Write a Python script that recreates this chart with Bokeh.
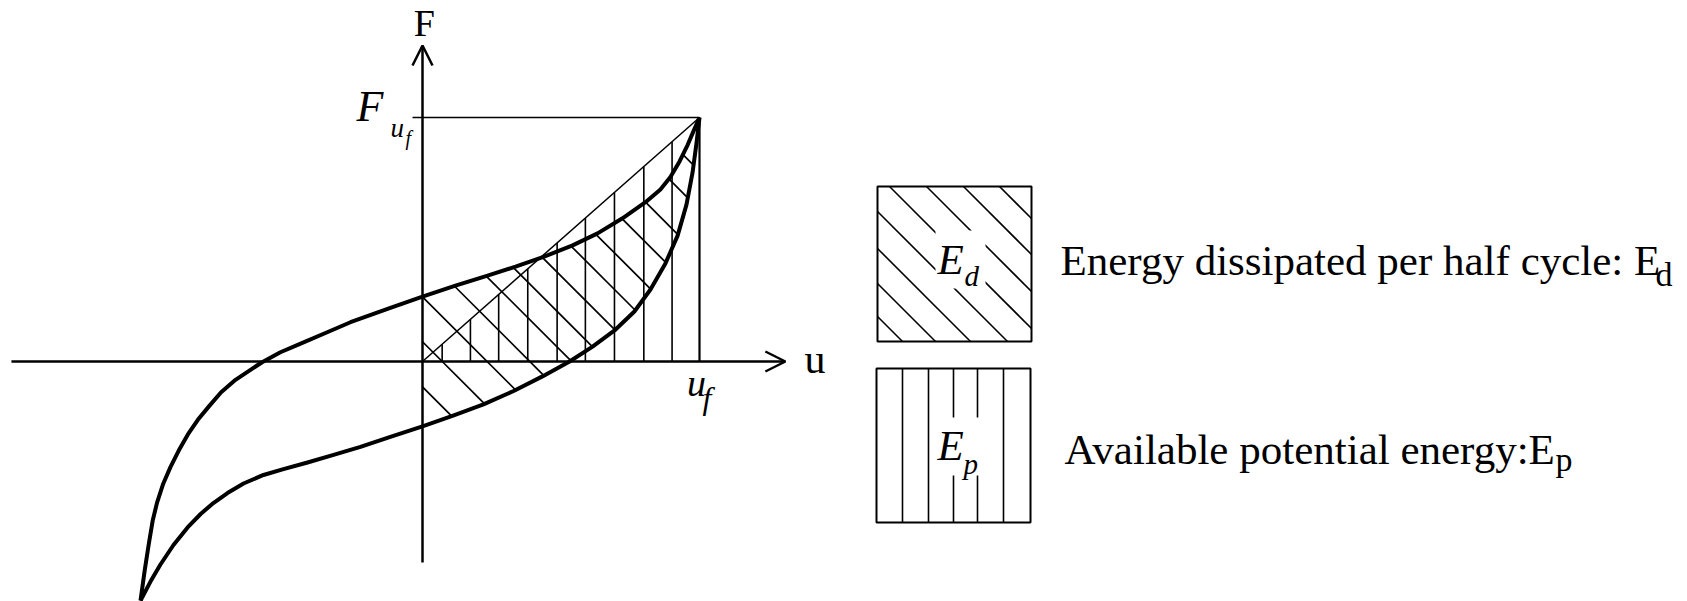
import numpy as np
from bokeh.plotting import figure
from bokeh.models import Range1d, Arrow, OpenHead, Label
from bokeh.layouts import row
from bokeh.embed import file_html
from bokeh.resources import INLINE

# ---------------------------------------------------------------------------
# Force-displacement loop, normalised so that the turning point is (u_f, F_uf)
# ---------------------------------------------------------------------------
U_F = 1.0     # displacement at the turning point
F_UF = 1.0    # force at the turning point

# upper branch, from the lower-left tip to the turning point
upper_u = [-1.018, -1.003, -0.988, -0.974, -0.958, -0.936, -0.910, -0.880, -0.847,
           -0.811, -0.771, -0.727, -0.675, -0.621, -0.579, -0.513, -0.440, -0.344,
           -0.260, -0.116, 0.000, 0.119, 0.235, 0.336, 0.437, 0.542, 0.632, 0.722,
           0.805, 0.859, 0.895, 0.928, 0.957, 0.978, 1.000]
upper_F = [-0.980, -0.857, -0.747, -0.652, -0.577, -0.501, -0.433, -0.365, -0.299,
           -0.239, -0.184, -0.126, -0.075, -0.034, -0.003, 0.038, 0.073, 0.120,
           0.161, 0.220, 0.266, 0.311, 0.352, 0.389, 0.429, 0.476, 0.525, 0.587,
           0.653, 0.705, 0.756, 0.820, 0.887, 0.943, 1.000]

# lower branch, same end points
lower_u = [-1.018, -0.982, -0.946, -0.899, -0.848, -0.801, -0.755, -0.704, -0.646,
           -0.574, -0.502, -0.415, -0.321, -0.224, -0.116, 0.000, 0.108, 0.220,
           0.329, 0.433, 0.531, 0.614, 0.697, 0.765, 0.823, 0.877, 0.921, 0.953,
           0.975, 0.989, 1.000]
lower_F = [-0.980, -0.902, -0.832, -0.752, -0.680, -0.625, -0.580, -0.539, -0.500,
           -0.465, -0.441, -0.414, -0.383, -0.350, -0.309, -0.266, -0.223, -0.176,
           -0.121, -0.061, 0.000, 0.061, 0.131, 0.205, 0.295, 0.402, 0.516, 0.643,
           0.775, 0.893, 1.000]

# hatching: vertical strokes of the E_p triangle and F-intercepts (at u = 0)
# of the oblique strokes of the E_d area
ep_hatch_u = [0.071, 0.173, 0.275, 0.380, 0.486, 0.588, 0.693, 0.799, 0.901]
ed_hatch_f0 = [-0.104, 0.081, 0.265, 0.440, 0.611, 0.757, 0.918, 1.082, 1.232,
               1.403, 1.567, 1.758, 1.915]

# ---------------------------------------------------------------------------
# Page geometry
# ---------------------------------------------------------------------------
H = 601
W_LEFT, W_RIGHT = 850, 837
ORIGIN_PX, ORIGIN_PY = 422, 361   # where u = 0, F = 0 sits on the canvas
PX_U, PX_F = 277.0, 244.0         # pixels per unit u and per unit F

x_rng = Range1d(-ORIGIN_PX / PX_U, (W_LEFT - ORIGIN_PX) / PX_U)
y_rng = Range1d((ORIGIN_PY - H) / PX_F, ORIGIN_PY / PX_F)

SERIF = "Liberation Serif"
INK = "black"
BASE_FIX = 0.38   # baseline correction of the text boxes, in em


def blank(fig):
    fig.grid.visible = False
    fig.outline_line_color = None
    fig.min_border = 0
    fig.min_border_left = fig.min_border_right = 0
    fig.min_border_top = fig.min_border_bottom = 0
    fig.background_fill_color = "white"
    fig.border_fill_color = "white"
    return fig


p = blank(figure(width=W_LEFT, height=H, x_range=x_rng, y_range=y_rng,
                 x_axis_location=None, y_axis_location=None,
                 output_backend="svg", toolbar_location=None))

# --- E_p hatching: verticals from the u axis up to the secant 0 -> (u_f, F_uf)
secant = F_UF / U_F
p.segment(x0=ep_hatch_u, y0=[0.0] * len(ep_hatch_u),
          x1=ep_hatch_u, y1=[secant * u for u in ep_hatch_u],
          line_color=INK, line_width=1.6)
p.segment(x0=[U_F], y0=[0.0], x1=[U_F], y1=[F_UF], line_color=INK, line_width=2.2)

# --- E_d hatching: 45 degree strokes clipped to the loop for u >= 0
slope = -PX_U / PX_F
uu = np.linspace(0.0, U_F, 4001)
up = np.interp(uu, upper_u, upper_F)
lo = np.interp(uu, lower_u, lower_F)
hx0, hy0, hx1, hy1 = [], [], [], []
for a in ed_hatch_f0:
    ff = a + slope * uu
    idx = np.nonzero((ff <= up) & (ff >= lo))[0]
    if idx.size < 2:
        continue
    hx0.append(uu[idx[0]]); hy0.append(ff[idx[0]])
    hx1.append(uu[idx[-1]]); hy1.append(ff[idx[-1]])
p.segment(x0=hx0, y0=hy0, x1=hx1, y1=hy1, line_color=INK, line_width=1.7)

# --- secant and F_uf reference line
p.line([0.0, U_F], [0.0, F_UF], line_color=INK, line_width=1.5)
p.line([-0.036, U_F], [F_UF, F_UF], line_color=INK, line_width=1.3)

# --- loop branches
p.line(upper_u, upper_F, line_color=INK, line_width=4, line_join="round")
p.line(lower_u, lower_F, line_color=INK, line_width=4, line_join="round")

# --- coordinate axes with open arrow heads
AX_U_MIN, AX_U_MAX = -1.484, 1.310
AX_F_MIN, AX_F_MAX = -0.824, 1.295
p.add_layout(Arrow(end=OpenHead(size=20, line_width=2.5, line_color=INK),
                   x_start=AX_U_MIN, y_start=0.0, x_end=AX_U_MAX, y_end=0.0,
                   line_width=2.5, line_color=INK))
p.add_layout(Arrow(end=OpenHead(size=20, line_width=2.5, line_color=INK),
                   x_start=0.0, y_start=AX_F_MIN, x_end=0.0, y_end=AX_F_MAX,
                   line_width=2.5, line_color=INK))


def lab(fig, x, y, text, size, italic=False, align="left", px_per_y=1.0):
    """Place text with its baseline at y (px_per_y: screen px per data unit, up)."""
    y_fix = y + BASE_FIX * size / px_per_y
    fig.add_layout(Label(x=x, y=y_fix, text=text, text_font=SERIF,
                         text_font_size=f"{size}px",
                         text_font_style="italic" if italic else "normal",
                         text_color=INK, text_align=align,
                         text_baseline="alphabetic"))


def lab_l(x, y, text, size, italic=False, align="left"):
    lab(p, x, y, text, size, italic, align, px_per_y=PX_F)


lab_l(0.007, 1.328, "F", 38, align="center")
lab_l(1.379, -0.057, "u", 42)
# F_{u_f}
lab_l(-0.238, 0.975, "F", 44, italic=True)
lab_l(-0.1155, 0.914, "u", 27, italic=True)
lab_l(-0.061, 0.885, "f", 20, italic=True)
# u_f
lab_l(0.955, -0.146, "u", 38, italic=True)
lab_l(1.011, -0.199, "f", 32, italic=True)

# ---------------------------------------------------------------------------
# Key: two hatched swatches with their captions (canvas pixel coordinates)
# ---------------------------------------------------------------------------
q = blank(figure(width=W_RIGHT, height=H,
                 x_range=Range1d(W_LEFT, W_LEFT + W_RIGHT), y_range=Range1d(H, 0),
                 x_axis_location=None, y_axis_location=None,
                 output_backend="svg", toolbar_location=None))


def lab_r(x, y, text, size, italic=False):
    lab(q, x, y, text, size, italic, px_per_y=-1.0)


# E_d swatch
ED_BOX = (877, 1031, 186, 341)     # left, right, top, bottom
ed_offsets = [-813, -777, -740, -703, -666, -629, -594, -561]
l, r, t, b = ED_BOX
sx0, sy0, sx1, sy1 = [], [], [], []
for c in ed_offsets:
    xa = max(l, t - c)
    xb = min(r, b - c)
    sx0.append(xa); sy0.append(xa + c); sx1.append(xb); sy1.append(xb + c)
q.segment(x0=sx0, y0=sy0, x1=sx1, y1=sy1, line_color=INK, line_width=1.6)
q.quad(left=[935], right=[985], top=[230], bottom=[288],
       fill_color="white", line_color=None)
q.quad(left=[l], right=[r], top=[t], bottom=[b], fill_color=None,
       line_color=INK, line_width=2)
lab_r(937, 275, "E", 43, italic=True)
lab_r(964, 286.5, "d", 29, italic=True)

# E_p swatch
EP_BOX = (876, 1030, 368, 522)
ep_offsets = [902, 928, 953, 977, 1003]
l, r, t, b = EP_BOX
q.segment(x0=ep_offsets, y0=[t] * len(ep_offsets), x1=ep_offsets,
          y1=[b] * len(ep_offsets), line_color=INK, line_width=1.6)
q.quad(left=[943], right=[988], top=[417], bottom=[475],
       fill_color="white", line_color=None)
q.quad(left=[l], right=[r], top=[t], bottom=[b], fill_color=None,
       line_color=INK, line_width=2)
lab_r(937, 461, "E", 43, italic=True)
lab_r(963, 474.5, "p", 29, italic=True)

# captions
lab_r(1060, 276.5, "Energy dissipated per half cycle: E", 43)
lab_r(1655, 287, "d", 34)
lab_r(1064, 465, "Available potential energy:E", 43)
lab_r(1555, 472, "p", 34)

layout = row(p, q)
open("out.html", "w").write(file_html(layout, INLINE))
